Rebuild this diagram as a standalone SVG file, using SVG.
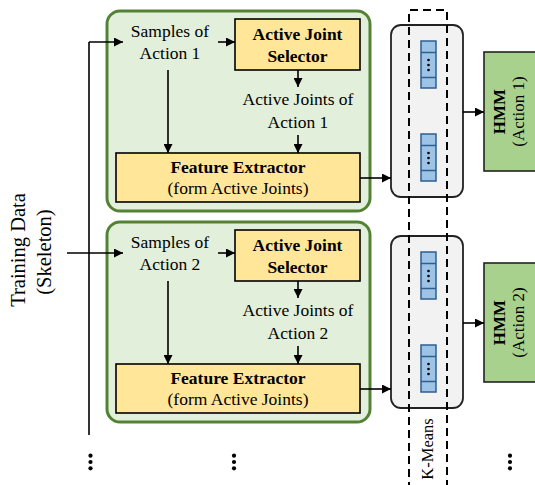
<svg xmlns="http://www.w3.org/2000/svg" width="535" height="485" viewBox="0 0 535 485" font-family="'Liberation Serif', 'Times New Roman', serif">
<style>
text{font-family:"Liberation Serif","Times New Roman",serif;fill:#000}
.t{font-family:"Liberation Serif","Times New Roman",serif;font-size:17.5px;text-anchor:middle}
.b{font-family:"Liberation Serif","Times New Roman",serif;font-size:17.5px;font-weight:bold;text-anchor:middle}
.r{font-family:"Liberation Serif","Times New Roman",serif;text-anchor:middle}
.grp{fill:#e2efda;stroke:#548235;stroke-width:3}
.yel{fill:#ffe699;stroke:#000;stroke-width:1.6}
.gray{fill:#f2f2f2;stroke:#222;stroke-width:1.8}
.hmm{fill:#a9d18e;stroke:#222;stroke-width:1.6}
.blue{fill:#9dc3e6;stroke:#2e5f8f;stroke-width:1.5}
.ln{fill:none;stroke:#000;stroke-width:1.6}
.arr{fill:none;stroke:#000;stroke-width:1.6;marker-end:url(#ah)}
.dash{fill:none;stroke:#000;stroke-width:2;stroke-dasharray:8 5}
.dot{fill:#000}
</style>
<defs>
<marker id="ah" viewBox="0 0 10 10" refX="10" refY="5" markerWidth="9" markerHeight="9" markerUnits="userSpaceOnUse" orient="auto">
<path d="M0,0 L10,5 L0,10 z" fill="#000"/>
</marker>
<g id="vec">
<rect class="blue" x="421" y="41" width="15" height="47"/>
<line class="blue" x1="421" y1="52.5" x2="436" y2="52.5"/>
<line class="blue" x1="421" y1="77.5" x2="436" y2="77.5"/>
<circle class="dot" cx="428.5" cy="60" r="1.3"/>
<circle class="dot" cx="428.5" cy="65" r="1.3"/>
<circle class="dot" cx="428.5" cy="70" r="1.3"/>
</g>
<g id="vdots">
<circle cx="0" cy="-6.3" r="2.1"/>
<circle cx="0" cy="0" r="2.1"/>
<circle cx="0" cy="6.3" r="2.1"/>
</g>
</defs>

<g id="training-data">
<text class="r" transform="translate(25,250) rotate(-90)" font-size="20.5">Training Data</text>
<text class="r" transform="translate(51,252) rotate(-90)" font-size="20.5">(Skeleton)</text>
</g>

<g id="action1-group">
<rect class="grp" x="107" y="11" width="263" height="200" rx="13"/>
<g id="samples1"><text class="t" x="170" y="37">Samples of</text><text class="t" x="170" y="59">Action 1</text></g>
<g id="selector1"><rect class="yel" x="235" y="19" width="125" height="51"/><text class="b" x="297.5" y="40">Active Joint</text><text class="b" x="297.5" y="62">Selector</text></g>
<g id="activejoints1"><text class="t" x="298" y="105">Active Joints of</text><text class="t" x="298" y="128">Action 1</text></g>
<g id="extractor1"><rect class="yel" x="116" y="153" width="244" height="49"/><text class="b" x="238" y="173">Feature Extractor</text><text class="t" x="238" y="194">(form Active Joints)</text></g>
</g>

<g id="action2-group">
<rect class="grp" x="107" y="222" width="263" height="200" rx="13"/>
<g id="samples2"><text class="t" x="170" y="248">Samples of</text><text class="t" x="170" y="270">Action 2</text></g>
<g id="selector2"><rect class="yel" x="235" y="230" width="125" height="51"/><text class="b" x="297.5" y="251">Active Joint</text><text class="b" x="297.5" y="273">Selector</text></g>
<g id="activejoints2"><text class="t" x="298" y="316">Active Joints of</text><text class="t" x="298" y="339">Action 2</text></g>
<g id="extractor2"><rect class="yel" x="116" y="364" width="244" height="49"/><text class="b" x="238" y="384">Feature Extractor</text><text class="t" x="238" y="405">(form Active Joints)</text></g>
</g>

<g id="kmeans1">
<rect class="gray" x="391" y="25" width="72" height="172" rx="10"/>
<use href="#vec"/>
<use href="#vec" y="93"/>
</g>
<g id="kmeans2">
<rect class="gray" x="391" y="236" width="72" height="172" rx="10"/>
<use href="#vec" y="211"/>
<use href="#vec" y="304"/>
</g>

<g id="kmeans-frame">
<path class="dash" d="M409,490 L409,10 L447,10 L447,490"/>
<text class="r" transform="translate(433,449) rotate(-90)" font-size="16.5">K-Means</text>
</g>

<g id="hmm1">
<rect class="hmm" x="484" y="52" width="60" height="119"/>
<text class="r" transform="translate(505,111.5) rotate(-90)" font-size="17" font-weight="bold">HMM</text>
<text class="r" transform="translate(524,111.5) rotate(-90)" font-size="17">(Action 1)</text>
</g>
<g id="hmm2">
<rect class="hmm" x="484" y="263" width="60" height="119"/>
<text class="r" transform="translate(505,322.5) rotate(-90)" font-size="17" font-weight="bold">HMM</text>
<text class="r" transform="translate(524,322.5) rotate(-90)" font-size="17">(Action 2)</text>
</g>

<g id="ellipses">
<use href="#vdots" x="90.5" y="462"/>
<use href="#vdots" x="234" y="462"/>
<use href="#vdots" x="510" y="462"/>
</g>

<g id="connectors">
<path class="ln" d="M89,435 L89,42"/>
<path class="arr" d="M89,42 L123,42"/>
<path class="arr" d="M67,253 L123,253"/>
<path class="arr" d="M218,42 L235,42"/>
<path class="arr" d="M168,70 L168,153"/>
<path class="arr" d="M298,70 L298,87"/>
<path class="arr" d="M298,135 L298,153"/>
<path class="arr" d="M360,178 L391,178"/>
<path class="arr" d="M463,112 L484,112"/>
<path class="arr" d="M218,253 L235,253"/>
<path class="arr" d="M168,281 L168,364"/>
<path class="arr" d="M298,281 L298,298"/>
<path class="arr" d="M298,346 L298,364"/>
<path class="arr" d="M360,389 L391,389"/>
<path class="arr" d="M463,323 L484,323"/>
</g>
</svg>
